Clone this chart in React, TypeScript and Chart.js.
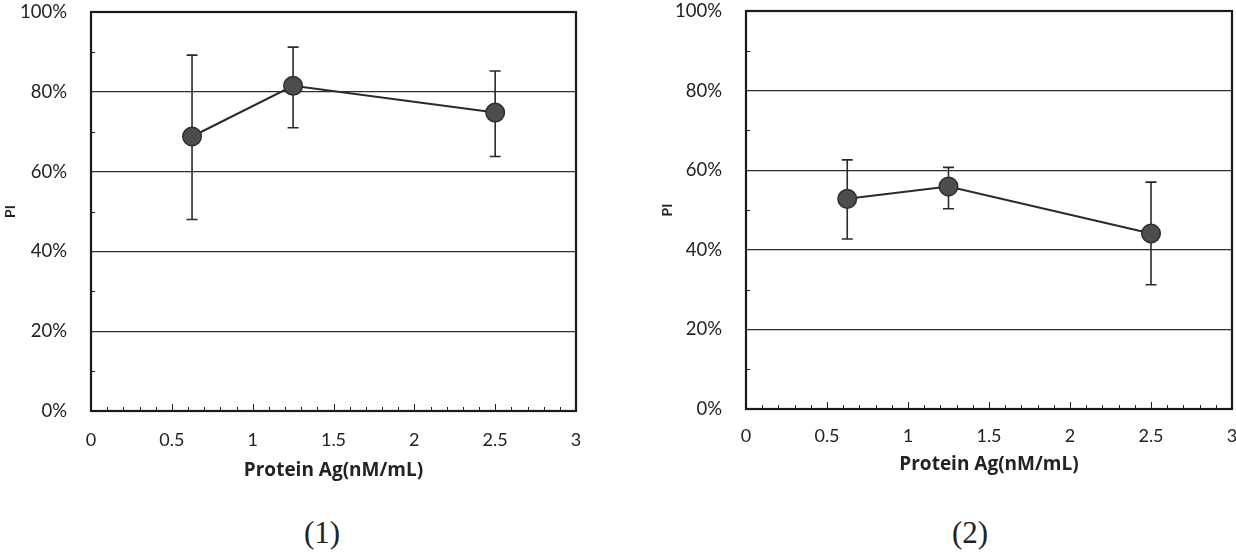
import React, { useEffect, useRef } from "react";
import { Chart, registerables } from "chart.js";

Chart.register(...registerables);

// ---- data ----
const doses = [0.625, 1.25, 2.5];

const pi1 = [68.8, 81.5, 74.8];
const pi1Upper = [89.2, 91.2, 85.2];
const pi1Lower = [48.0, 71.0, 63.8];

const pi2 = [52.8, 55.9, 44.1];
const pi2Upper = [62.6, 60.7, 57.0];
const pi2Lower = [42.7, 50.3, 31.2];

const xTickValues = [0, 0.5, 1, 1.5, 2, 2.5, 3];
const yTickValues = [0, 20, 40, 60, 80, 100];
const xMinorStep = 0.1;
const yMinorValues = [10, 30, 50, 70, 90];

const xTitle = "Protein Ag(nM/mL)";
const yTitle = "PI";
const captions = ["(1)", "(2)"];

const FONT = "Lato, 'Open Sans', sans-serif";
const TITLE_FONT = "'Open Sans', Lato, sans-serif";
const INK = "#2a2a2a";

const decorPlugin = {
  id: "decor",
  beforeDatasetsDraw(chart: any, _args: any, opts: any) {
    const { ctx } = chart;
    const x = chart.scales.x;
    const y = chart.scales.y;
    ctx.save();
    ctx.strokeStyle = INK;
    ctx.lineWidth = 1.6;
    opts.xs.forEach((xv: number, i: number) => {
      const px = x.getPixelForValue(xv);
      const yt = y.getPixelForValue(opts.upper[i]);
      const yb = y.getPixelForValue(opts.lower[i]);
      ctx.beginPath();
      ctx.moveTo(px, yt);
      ctx.lineTo(px, yb);
      ctx.moveTo(px - 5.5, yt);
      ctx.lineTo(px + 5.5, yt);
      ctx.moveTo(px - 5.5, yb);
      ctx.lineTo(px + 5.5, yb);
      ctx.stroke();
    });
    ctx.restore();
  },
  afterDraw(chart: any) {
    const { ctx, chartArea: a } = chart;
    const x = chart.scales.x;
    const y = chart.scales.y;
    ctx.save();
    ctx.strokeStyle = "#1e1e1e";
    ctx.lineWidth = 1;
    const n = Math.round((x.max - x.min) / xMinorStep);
    for (let k = 0; k <= n; k++) {
      const v = x.min + k * xMinorStep;
      const px = Math.round(x.getPixelForValue(v)) + 0.5;
      const len = k % 5 === 0 ? 7 : 4;
      ctx.beginPath();
      ctx.moveTo(px, a.bottom);
      ctx.lineTo(px, a.bottom - len);
      ctx.stroke();
    }
    yMinorValues.forEach((v) => {
      const py = Math.round(y.getPixelForValue(v)) + 0.5;
      ctx.beginPath();
      ctx.moveTo(a.left, py);
      ctx.lineTo(a.left + 4, py);
      ctx.stroke();
    });
    ctx.lineWidth = 2.2;
    ctx.strokeStyle = "#1a1a1a";
    ctx.strokeRect(a.left, a.top, a.right - a.left, a.bottom - a.top);
    ctx.restore();
  },
};

type PanelProps = {
  values: number[];
  upper: number[];
  lower: number[];
  left: number;
  width: number;
  height: number;
  padTop: number;
  padRight: number;
  yAxisWidth: number;
  xAxisHeight: number;
  xTickPad: number;
  xTitlePadBottom: number;
};

function Panel(p: PanelProps) {
  const ref = useRef<HTMLCanvasElement | null>(null);
  useEffect(() => {
    const canvas = ref.current;
    if (!canvas) return;
    const chart = new Chart(canvas, {
      type: "line",
      data: {
        datasets: [
          {
            data: doses.map((d, i) => ({ x: d, y: p.values[i] })),
            borderColor: INK,
            borderWidth: 2,
            backgroundColor: "#4d4d4d",
            pointBackgroundColor: "#4d4d4d",
            pointBorderColor: "#2e2e2e",
            pointBorderWidth: 1.5,
            pointRadius: 9.3,
            tension: 0,
          },
        ],
      },
      options: {
        responsive: false,
        animation: false,
        events: [],
        layout: { padding: { top: p.padTop, right: p.padRight, left: 0, bottom: 0 } },
        plugins: {
          legend: { display: false },
          tooltip: { enabled: false },
          decor: { xs: doses, upper: p.upper, lower: p.lower },
        } as any,
        scales: {
          x: {
            type: "linear",
            min: xTickValues[0],
            max: xTickValues[xTickValues.length - 1],
            afterBuildTicks: (s: any) => {
              s.ticks = xTickValues.map((v) => ({ value: v }));
            },
            afterFit: (s: any) => {
              s.height = p.xAxisHeight;
              s.paddingLeft = 0;
              s.paddingRight = 0;
            },
            grid: { display: false, drawTicks: false },
            border: { display: false },
            ticks: {
              padding: p.xTickPad,
              color: "#222",
              font: { family: FONT, size: 18 },
              maxRotation: 0,
              callback: (v: any) => String(v),
            },
            title: {
              display: true,
              text: xTitle,
              color: "#222",
              font: { family: TITLE_FONT, size: 19, weight: "bold" },
              padding: { top: 0, bottom: p.xTitlePadBottom },
            },
          },
          y: {
            type: "linear",
            min: yTickValues[0],
            max: yTickValues[yTickValues.length - 1],
            afterBuildTicks: (s: any) => {
              s.ticks = yTickValues.map((v) => ({ value: v }));
            },
            afterFit: (s: any) => {
              s.width = p.yAxisWidth;
              s.paddingTop = 0;
              s.paddingBottom = 0;
            },
            grid: { color: "#2e2e2e", lineWidth: 1.2, drawTicks: false },
            border: { display: false },
            ticks: {
              padding: 24,
              color: "#222",
              font: { family: FONT, size: 18.5 },
              callback: (v: any) => v + "%",
            },
            title: {
              display: true,
              text: yTitle,
              color: "#222",
              font: { family: FONT, size: 14, weight: "bold" },
              padding: { top: 2, bottom: 0 },
            },
          },
        },
      },
      plugins: [decorPlugin as any],
    });
    return () => chart.destroy();
  }, []);
  return (
    <canvas
      ref={ref}
      width={p.width}
      height={p.height}
      style={{ position: "absolute", left: p.left, top: 0, width: p.width, height: p.height }}
    />
  );
}

export default function App() {
  const capStyle: React.CSSProperties = {
    position: "absolute",
    top: 512,
    width: 100,
    textAlign: "center",
    fontFamily: "'Liberation Serif', 'DejaVu Serif', serif",
    fontSize: 31,
    lineHeight: "42px",
    color: "#222",
  };
  return (
    <div
      style={{
        position: "absolute",
        left: 0,
        top: 0,
        width: 1236,
        height: 552,
        overflow: "hidden",
        background: "#fff",
      }}
    >
      <Panel
        values={pi1}
        upper={pi1Upper}
        lower={pi1Lower}
        left={0}
        width={610}
        height={495}
        padTop={12}
        padRight={34}
        yAxisWidth={91}
        xAxisHeight={84}
        xTickPad={18}
        xTitlePadBottom={13}
      />
      <Panel
        values={pi2}
        upper={pi2Upper}
        lower={pi2Lower}
        left={657}
        width={600}
        height={495}
        padTop={11}
        padRight={25}
        yAxisWidth={89}
        xAxisHeight={86}
        xTickPad={16}
        xTitlePadBottom={19}
      />
      <div style={{ ...capStyle, left: 272 }}>{captions[0]}</div>
      <div style={{ ...capStyle, left: 920 }}>{captions[1]}</div>
    </div>
  );
}
